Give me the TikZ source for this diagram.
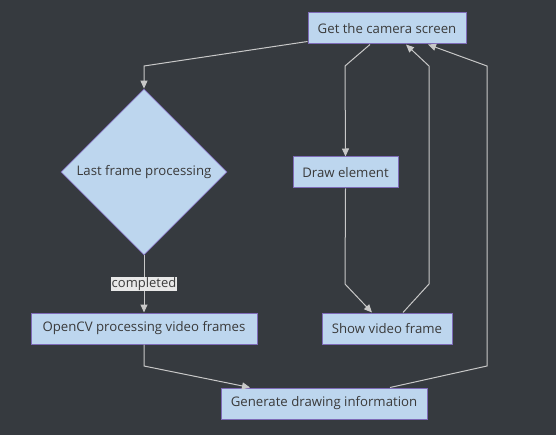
\documentclass[tikz,border=0pt]{standalone}
\usepackage{fontspec}
\setmainfont{Open Sans}
\usetikzlibrary{shapes.geometric,arrows.meta}
\definecolor{bgc}{HTML}{363A3F}
\definecolor{boxfill}{HTML}{BDD6EE}
\definecolor{boxline}{HTML}{7E6BB8}
\definecolor{txt}{HTML}{3A3A3A}
\definecolor{edgec}{HTML}{C8C8C8}
\definecolor{lblfill}{HTML}{E8E8E8}
\tikzset{
  procbox/.style={draw=boxline, fill=boxfill, line width=1pt, text=txt, font=\fontsize{13.2}{15}\selectfont, minimum height=31pt, inner sep=0pt},
  decbox/.style={diamond, draw=boxline, fill=boxfill, line width=0.8pt, text=txt, font=\fontsize{13.2}{15}\selectfont, minimum width=166pt, minimum height=166pt, inner sep=0pt, aspect=1},
  conn/.style={draw=edgec, line width=1pt, -{Triangle[length=8pt,width=7pt]}},
  lbl/.style={fill=lblfill, text=txt, font=\fontsize{13}{14}\selectfont, inner sep=0.5pt}
}
\begin{document}
\begin{tikzpicture}[x=1pt,y=-1pt]
\fill[bgc] (0,0) rectangle (556,435);
\useasboundingbox (0,0) rectangle (556,435);
\node[procbox, minimum width=158pt] (cam) at (387,28.5) {Get the camera screen};
\node[decbox] (last) at (144,172) {Last frame processing};
\node[procbox, minimum width=105pt] (draw) at (345.5,172.5) {Draw element};
\node[procbox, minimum width=130pt] (show) at (387,328.5) {Show video frame};
\node[procbox, minimum width=226pt] (ocv) at (144,328.5) {OpenCV processing video frames};
\node[procbox, minimum width=206pt] (gen) at (324,403.5) {Generate drawing information};
\coordinate (c1) at (144,66);
\coordinate (c3a) at (345,66);
\coordinate (c4a) at (345,284);
\coordinate (c5a) at (429,284);
\coordinate (c5b) at (429,66);
\coordinate (c6a) at (487,366);
\coordinate (c6b) at (487,66);
\coordinate (c7a) at (144,366);
\draw[conn] ([yshift=3pt]cam.south west) -- (c1) -- (last.north);
\draw[conn] (last.south) -- node[lbl, pos=0.5] {completed} (ocv.north);
\draw[conn] ([xshift=-17pt]cam.south) -- (c3a) -- (draw.north);
\draw[conn] (draw.south) -- (c4a) -- ([xshift=-15pt]show.north);
\draw[conn] ([xshift=16pt]show.north) -- (c5a) -- (c5b) -- ([xshift=19pt]cam.south);
\draw[conn] ([xshift=66pt]gen.north) -- (c6a) -- (c6b) -- ([xshift=41pt]cam.south);
\draw[conn] (ocv.south) -- (c7a) -- ([xshift=-74pt]gen.north);
\end{tikzpicture}
\end{document}
